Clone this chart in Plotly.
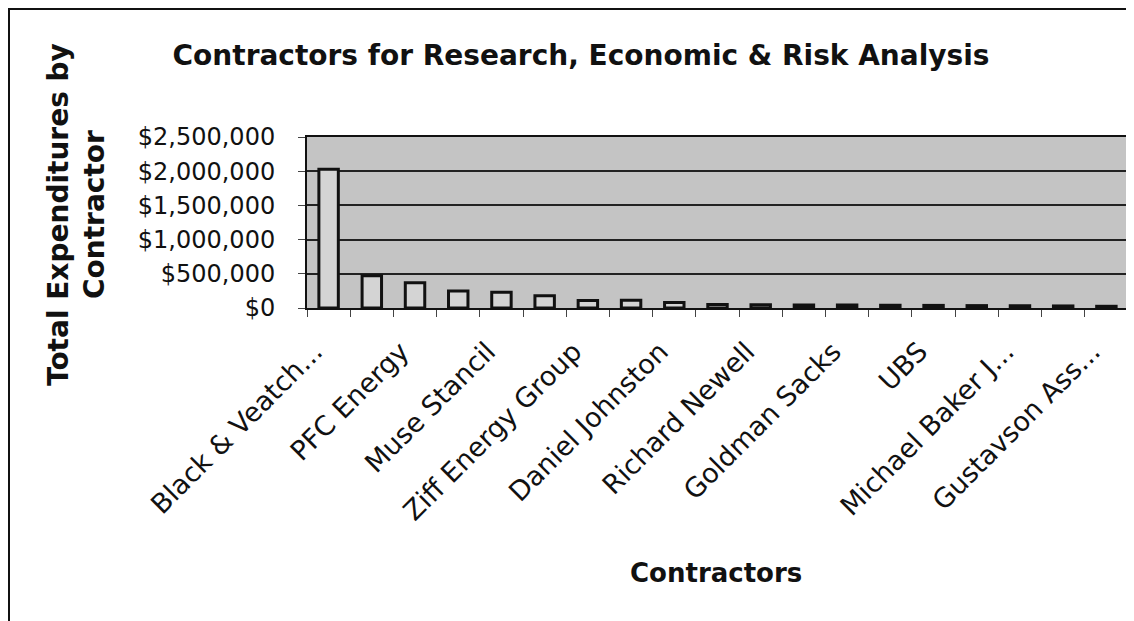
import plotly.graph_objects as go

# contractor positions along the axis (19 bars, every other one labelled)
positions = list(range(1, 20))
expenditures = [2030000, 470000, 370000, 250000, 230000, 180000, 110000, 115000,
                80000, 50000, 47000, 45000, 45000, 40000, 38000, 35000, 33000,
                30000, 25000]

label_positions = [1, 3, 5, 7, 9, 11, 13, 15, 17, 19]
label_text = ["Black & Veatch...", "PFC Energy", "Muse Stancil", "Ziff Energy Group",
              "Daniel Johnston", "Richard Newell", "Goldman Sacks", "UBS",
              "Michael Baker J...", "Gustavson Ass..."]

y_ticks = [0, 500000, 1000000, 1500000, 2000000, 2500000]

FONT = "DejaVu Sans"

# the page body keeps an 8px default margin, so the figure is 8px smaller
W, H = 1126, 613

fig = go.Figure()
fig.add_trace(go.Bar(
    x=positions, y=expenditures, width=0.45,
    marker=dict(color="#d4d4d4", line=dict(color="#111111", width=3)),
    showlegend=False,
))

fig.update_layout(
    width=W, height=H,
    margin=dict(l=299, r=6, t=129, b=313, autoexpand=False),
    paper_bgcolor="white",
    plot_bgcolor="#c4c4c4",
    font=dict(family=FONT, color="#111111"),
    title=dict(text="<b>Contractors for Research, Economic & Risk Analysis</b>",
               x=573 / W, xref="container", xanchor="center",
               y=1 - 47 / H, yref="container", yanchor="middle",
               font=dict(family=FONT, size=28, color="#111111")),
)

fig.update_xaxes(
    range=[0.5, 19.5], automargin=False,
    tickmode="array", tickvals=label_positions, ticktext=label_text,
    tickangle=-45, ticks="", tickfont=dict(family=FONT, size=27, color="#111111"),
    ticklabelstandoff=15, ticklabelshift=-14,
    minor=dict(tickmode="array", tickvals=[p - 0.5 for p in positions] + [19.5],
               ticks="outside", ticklen=7, tickcolor="#444", tickwidth=1),
    showgrid=False, zeroline=False,
    showline=True, linecolor="#111111", linewidth=2, mirror=True,
)

fig.update_yaxes(
    range=[0, 2500000], automargin=False,
    tickmode="array", tickvals=y_ticks, tickformat="$,.0f",
    ticks="outside", ticklen=7, tickcolor="#444",
    tickfont=dict(family=FONT, size=24, color="#111111"),
    ticklabelstandoff=18,
    showgrid=True, gridcolor="#222222", gridwidth=2, zeroline=False,
    showline=True, linecolor="#111111", linewidth=2, mirror=True,
)

# axis titles placed as annotations to match the original layout
fig.add_annotation(text="<b>Total Expenditures by<br>Contractor</b>",
                   xref="paper", yref="paper", x=(76 - 307) / 821, y=(308 - 215) / 171,
                   xanchor="center", yanchor="middle", textangle=-90, showarrow=False,
                   font=dict(family=FONT, size=28, color="#111111"))
fig.add_annotation(text="<b>Contractors</b>",
                   xref="paper", yref="paper", x=(716 - 307) / 821, y=(308 - 573) / 171,
                   xanchor="center", yanchor="middle", showarrow=False,
                   font=dict(family=FONT, size=26, color="#111111"))

# outer chart frame
fig.add_shape(type="rect", xref="paper", yref="paper",
              x0=(9 - 307) / 821, x1=(1145 - 307) / 821,
              y0=(308 - 640) / 171, y1=(308 - 9) / 171,
              line=dict(color="#111111", width=2), fillcolor="rgba(0,0,0,0)", layer="below")

fig.write_html("out.html")
